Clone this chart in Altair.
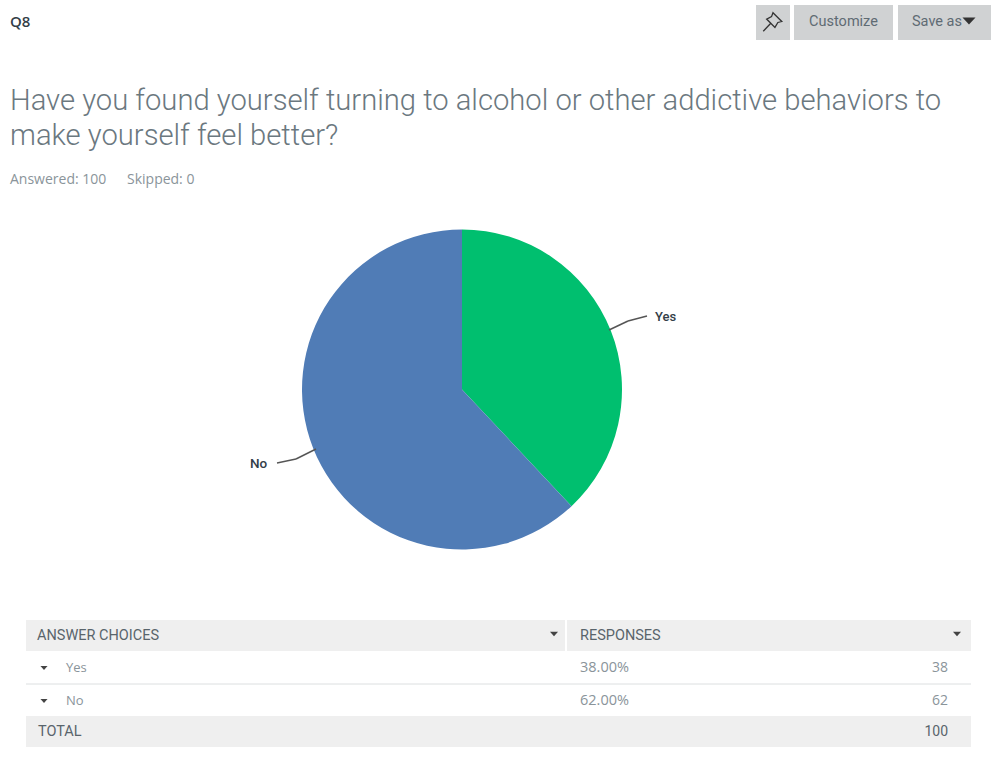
import altair as alt
import pandas as pd

# Survey results
question_id = "Q8"
question_lines = [
    "Have you found yourself turning to alcohol or other addictive behaviors to",
    "make yourself feel better?",
]
answered_text = "Answered: 100"
skipped_text = "Skipped: 0"
answers = ["Yes", "No"]
shares = [38.00, 62.00]
counts = [38, 62]
total_count = 100
answer_colors = ["#00BF6F", "#507CB6"]

# Thumbtack outline and the flat disclosure caret, as unit-square symbol paths
pin_path = (
    "M0.05,-0.95 L0.95,-0.05 L0.55,0.05 L0.25,0.55 L-0.6,-0.3 L-0.1,-0.55 Z "
    "M-0.2,0.15 L-0.95,0.95"
)
caret_path = "M-1,-0.55 L1,-0.55 L0,0.55 Z"

FONT = "Roboto"
BODY_FONT = "Open Sans"
INK = "#6B787F"
DARK = "#333E48"
MUTED = "#8A949A"
BAND = "#EFEFEF"
BUTTON = "#D0D2D3"


def box(x1, x2, y1, y2, fill):
    return alt.Chart().mark_rect(color=fill).encode(
        x=alt.value(x1), x2=alt.value(x2), y=alt.value(y1), y2=alt.value(y2)
    )


def seg(x1, y1, x2, y2, color="#555555", width=1.5):
    return alt.Chart().mark_rule(color=color, strokeWidth=width).encode(
        x=alt.value(x1), x2=alt.value(x2), y=alt.value(y1), y2=alt.value(y2)
    )


def label(text, x, y, size=13, color=INK, weight=400, align="left", font=FONT):
    return alt.Chart().mark_text(
        text=text, font=font, fontSize=size, color=color, fontWeight=weight,
        align=align, baseline="middle", opacity=1,
    ).encode(x=alt.value(x), y=alt.value(y))


def caret(x, y, size=50, color="#444444"):
    return alt.Chart().mark_point(
        shape=caret_path, filled=True, color=color, size=size, opacity=1, strokeWidth=0
    ).encode(x=alt.value(x), y=alt.value(y))


pie_data = pd.DataFrame({"answer": answers, "share": shares, "rank": range(len(answers))})

pie = alt.Chart(pie_data).mark_arc(radius=160).encode(
    theta=alt.Theta("share:Q", stack=True),
    order=alt.Order("rank:O"),
    color=alt.Color(
        "answer:N",
        scale=alt.Scale(domain=answers, range=answer_colors),
        legend=None,
    ),
    x=alt.value(462),
    y=alt.value(389.5),
)

layers = [
    # Header strip
    label(question_id, 10, 22, size=15, color=DARK, weight=600, font=BODY_FONT),
    box(756, 790, 5, 40, BUTTON),
    alt.Chart().mark_point(
        shape=pin_path, size=380, filled=False, color="#333333", strokeWidth=1.3, opacity=1
    ).encode(x=alt.value(772.5), y=alt.value(22)),
    box(794, 893, 5, 40, BUTTON),
    label("Customize", 843.5, 22, size=14.5, color="#5F6B73", align="center"),
    box(898, 991, 5, 40, BUTTON),
    label("Save as", 912, 22, size=14.5, color="#5F6B73"),
    caret(969, 21, size=170, color="#333333"),
    # Question heading
    label(question_lines[0], 10, 101, size=29.2, color=INK, weight=300),
    label(question_lines[1], 10, 136, size=29.2, color=INK, weight=300),
    label(answered_text, 10, 180, size=14, color=MUTED, font=BODY_FONT),
    label(skipped_text, 127, 180, size=14, color=MUTED, font=BODY_FONT),
    # Pie and its callouts
    pie,
    seg(609, 330, 628, 321),
    seg(628, 321, 647, 316),
    label(answers[0], 655, 317, size=13, color=DARK, weight=500),
    seg(316, 449, 296, 459),
    seg(296, 459, 277, 463),
    label(answers[1], 250, 464, size=13.5, color=DARK, weight=500),
    # Response table
    box(26, 971, 620, 651, BAND),
    seg(566, 620, 566, 651, color="#FFFFFF", width=2),
    label("ANSWER CHOICES", 37, 636, size=14.5, color="#59646B"),
    caret(554, 634, size=65),
    label("RESPONSES", 580, 636, size=14.5, color="#59646B"),
    caret(957, 634, size=65),
]

row_centers = [668, 701]
for name, share, count, cy in zip(answers, shares, counts, row_centers):
    layers += [
        caret(44, cy, size=50),
        label(name, 66, cy, size=13, color=MUTED, font=BODY_FONT),
        label(f"{share:.2f}%", 580, cy, size=14.5, color=MUTED, font=BODY_FONT),
        label(str(count), 948, cy, size=14, color=MUTED, align="right", font=BODY_FONT),
    ]

layers += [
    seg(26, 684, 971, 684, color="#DCDFE0", width=1),
    box(26, 971, 716, 747, BAND),
    label("TOTAL", 38, 732, size=14.5, color="#59646B"),
    label(str(total_count), 948, 732, size=14, color="#59646B", align="right"),
]

chart = alt.layer(*layers).properties(
    width=998,
    height=771,
    padding=0,
    autosize=alt.AutoSizeParams(type="none"),
    background="#FFFFFF",
).configure_view(stroke=None)

chart.save("out.html", embed_options={"renderer": "svg", "actions": False})
